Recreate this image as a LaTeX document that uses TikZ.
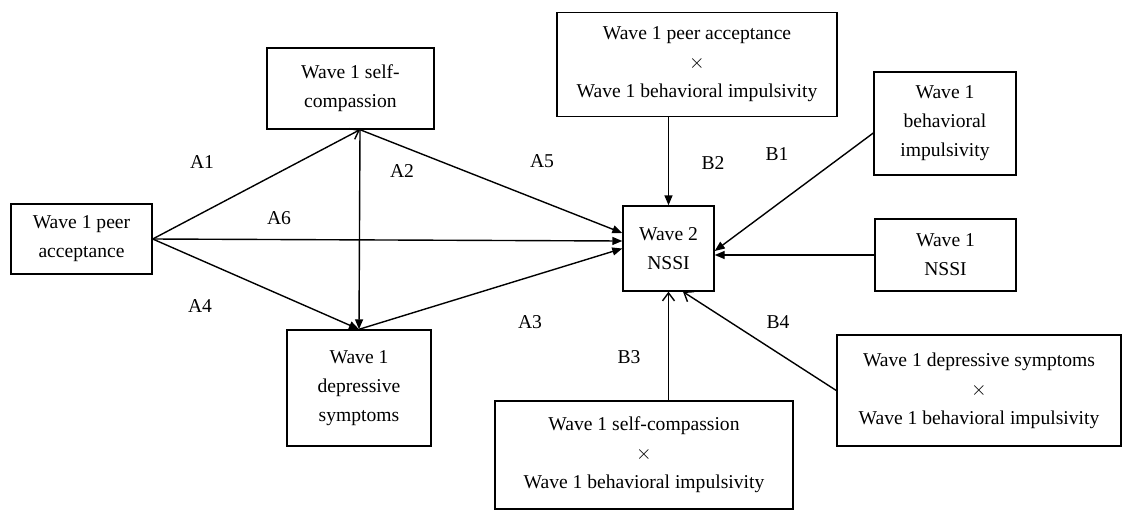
\documentclass[tikz,border=0pt]{standalone}
\usepackage{fontspec}
\setmainfont{Liberation Serif}
\usetikzlibrary{arrows.meta, positioning}
\tikzstyle{var}       = [rectangle, draw=black, line width=0.7pt, align=center,
                         inner sep=2pt, font=\fontsize{9.8}{14.5}\selectfont]
\tikzstyle{inter}     = [var, minimum height=52pt]
\tikzstyle{arrow}     = [-{Triangle[length=5pt, width=4pt]}, line width=0.7pt]
\tikzstyle{openarrow} = [-{Straight Barb[length=4pt, width=6pt]}, line width=0.7pt]
\tikzstyle{plabel}    = [font=\fontsize{9.8}{14.5}\selectfont, inner sep=0pt]

\begin{document}
\begin{tikzpicture}[x=0.5pt, y=-0.5pt]
  \useasboundingbox (0,0) rectangle (1124,509);

  % Mediation part
  \node (peer) [var, minimum width=70.5pt, minimum height=35pt]   at (81.5,239)  {Wave 1 peer\\acceptance};
  \node (self) [var, minimum width=83.5pt, minimum height=40.5pt] at (350.5,88.5) {Wave 1 self-\\compassion};
  \node (dep)  [var, minimum width=72pt, minimum height=58pt]     at (359,388)   {Wave 1\\depressive\\symptoms};
  \node (out)  [var, minimum width=45.5pt, minimum height=42.5pt] at (668.5,248.5) {Wave 2\\NSSI};

  % Moderator and interactions
  \node (peerimp) [inter, minimum width=140pt] at (697,64.5)  {Wave 1 peer acceptance\\$\times$\\Wave 1 behavioral impulsivity};
  \node (imp)   [var, minimum width=71pt, minimum height=51.5pt]  at (945,123.5) {Wave 1\\behavioral\\impulsivity};
  \node (nssi1) [var, minimum width=70.5pt, minimum height=36pt]  at (945.5,255) {Wave 1\\NSSI};
  \node (depimp) [inter, minimum width=142pt, minimum height=55.5pt] at (979,390.5) {Wave 1 depressive symptoms\\$\times$\\Wave 1 behavioral impulsivity};
  \node (selfimp) [inter, minimum width=149pt, minimum height=54pt] at (644,455) {Wave 1 self-compassion\\$\times$\\Wave 1 behavioral impulsivity};

  \coordinate (selfb) at ([xshift=4.75pt]self.south);

  \draw [openarrow] (peer.east) -- (selfb);
  \draw [arrow] (peer.east) -- (dep.north);
  \draw [arrow] (peer.east) -- ([yshift=3.75pt]out.west);
  \draw [arrow] (selfb) -- (dep.north);
  \draw [arrow] (selfb) -- ([yshift=7.75pt]out.west);
  \draw [arrow] (dep.north) -- (out.west);
  \draw [arrow] (peerimp.south -| out.north) -- (out.north);
  \draw [arrow] ([yshift=-4.75pt]imp.west) -- ([yshift=-1.25pt]out.east);
  \draw [arrow] (nssi1.west) -- (nssi1.west -| out.east);
  \draw [openarrow] (selfimp.north -| out.south) -- (out.south);
  \draw [openarrow] (depimp.west) -- ([xshift=7.25pt]out.south);

  % Path labels
  \node (la1) [plabel] at (202,162) {A1};
  \node (la2) [plabel] at (402,171) {A2};
  \node (la3) [plabel] at (530,322) {A3};
  \node (la4) [plabel] at (200,306) {A4};
  \node (la5) [plabel] at (542,161) {A5};
  \node (la6) [plabel] at (279,218) {A6};
  \node (lb1) [plabel] at (777,154) {B1};
  \node (lb2) [plabel] at (713,163) {B2};
  \node (lb3) [plabel] at (629,357) {B3};
  \node (lb4) [plabel] at (778,322) {B4};
\end{tikzpicture}
\end{document}
